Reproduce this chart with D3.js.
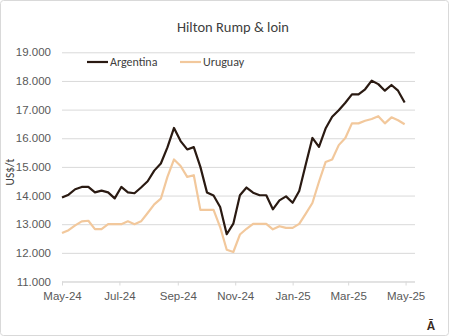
<!DOCTYPE html>
<html>
<head>
<meta charset="utf-8">
<script src="https://cdn.jsdelivr.net/npm/d3@7"></script>
<style>
  html, body { margin: 0; padding: 0; background: #fff; }
  svg { display: block; font-family: Calibri, Carlito, "Liberation Sans", "Open Sans", sans-serif; }
</style>
</head>
<body>
<svg id="chart" width="450" height="336"></svg>
<script>
// ---- data ----
const startDate = "2024-05-01";          // first weekly observation
const weekCount = 53;                      // weekly observations
const argentina = [
  13930, 14030, 14220, 14300, 14300, 14110, 14170, 14110, 13900, 14300,
  14110, 14080, 14280, 14500, 14870, 15120, 15680, 16360, 15900, 15610,
  15690, 15000, 14110, 14000, 13600, 12650, 13020, 14010, 14280, 14100,
  14010, 14010, 13520, 13830, 13970, 13750, 14160, 15090, 16010, 15700,
  16340, 16750, 16980, 17240, 17530, 17530, 17710, 18010, 17890, 17660,
  17860, 17660, 17250
];
const uruguay = [
  12690, 12790, 12960, 13100, 13120, 12830, 12830, 13000, 13000, 13000,
  13100, 13000, 13100, 13390, 13690, 13890, 14650, 15260, 15030, 14650,
  14710, 13500, 13500, 13500, 12900, 12110, 12030, 12640, 12840, 13010,
  13010, 13010, 12820, 12930, 12870, 12870, 13010, 13370, 13740, 14480,
  15170, 15260, 15760, 16010, 16520, 16520, 16610, 16670, 16770, 16520,
  16730, 16630, 16490
];
const seriesNames = ["Argentina", "Uruguay"];
const yTicks = [11000, 12000, 13000, 14000, 15000, 16000, 17000, 18000, 19000];
const xTickDates = ["2024-05-01", "2024-07-01", "2024-09-01", "2024-11-01", "2025-01-01", "2025-03-01", "2025-05-01"];
const xDomain = ["2024-05-01", "2025-05-11"];
const title = "Hilton Rump & loin";
const yLabel = "US$/t";

// ---- layout ----
const W = 450, H = 336;
const plot = { left: 62, right: 415, top: 52.3, bottom: 281.5 };
const colors = ["#2a1a12", "#f2c89c"];
const parse = d3.utcParse("%Y-%m-%d");
const start = parse(startDate);
const dates = d3.range(weekCount).map(i => d3.utcDay.offset(start, 7 * i));

const svg = d3.select("#chart");

// chart border
svg.append("rect")
  .attr("x", 0.5).attr("y", 0.5).attr("width", W - 2).attr("height", H - 1)
  .attr("rx", 3)
  .attr("fill", "#fff").attr("stroke", "#d9d9d9");

const x = d3.scaleUtc().domain(xDomain.map(parse)).range([plot.left, plot.right]);
const y = d3.scaleLinear().domain([11000, 19000]).range([plot.bottom, plot.top]);

const fmt = v => d3.format(",")(v).replace(/,/g, ".");

// gridlines + y labels
const yAxis = d3.axisLeft(y).tickValues(yTicks).tickSize(-(plot.right - plot.left)).tickFormat(fmt).tickPadding(11);
const gy = svg.append("g").attr("transform", `translate(${plot.left},0)`).call(yAxis);
gy.select(".domain").remove();
gy.selectAll(".tick line").attr("stroke", "#d9d9d9").attr("stroke-width", 1);
gy.selectAll(".tick text").attr("fill", "#595959").style("font-size", "11.5px");

// x axis
const xAxis = d3.axisBottom(x).tickValues(xTickDates.map(parse)).tickFormat(d3.utcFormat("%b-%y")).tickSize(4).tickPadding(6);
const gx = svg.append("g").attr("transform", `translate(0,${plot.bottom})`).call(xAxis);
gx.select(".domain").attr("stroke", "#d9d9d9").attr("d", `M${plot.left},0.5H${plot.right}`);
gx.selectAll(".tick line").attr("stroke", "#d9d9d9");
gx.selectAll(".tick text").attr("fill", "#595959").style("font-size", "11.5px");

// lines
const line = d3.line().x(d => x(d[0])).y(d => y(d[1])).curve(d3.curveLinear);
[argentina, uruguay].forEach((vals, i) => {
  svg.append("path")
    .datum(dates.map((d, j) => [d, vals[j]]))
    .attr("d", line)
    .attr("fill", "none")
    .attr("stroke", colors[i])
    .attr("stroke-width", 2.2)
    .attr("stroke-linejoin", "round");
});

// title
svg.append("text")
  .attr("x", 233).attr("y", 32)
  .attr("text-anchor", "middle")
  .attr("fill", "#404040")
  .style("font-size", "14.5px")
  .text(title);

// y label
svg.append("text")
  .attr("transform", "translate(14,172) rotate(-90)")
  .attr("text-anchor", "middle")
  .attr("fill", "#404040")
  .style("font-size", "11.5px")
  .text(yLabel);

// legend
const legendX = [87, 180];
seriesNames.forEach((n, i) => {
  svg.append("line")
    .attr("x1", legendX[i]).attr("x2", legendX[i] + 21)
    .attr("y1", 62).attr("y2", 62)
    .attr("stroke", colors[i]).attr("stroke-width", 2.2);
  svg.append("text")
    .attr("x", legendX[i] + 23).attr("y", 66)
    .attr("fill", "#404040")
    .style("font-size", "12px")
    .text(n);
});

// corner mark
svg.append("text")
  .attr("x", 431).attr("y", 330)
  .attr("text-anchor", "middle")
  .attr("fill", "#3a2a20")
  .style("font-size", "13px")
  .style("font-weight", "bold")
  .text("Ā");
</script>
</body>
</html>
